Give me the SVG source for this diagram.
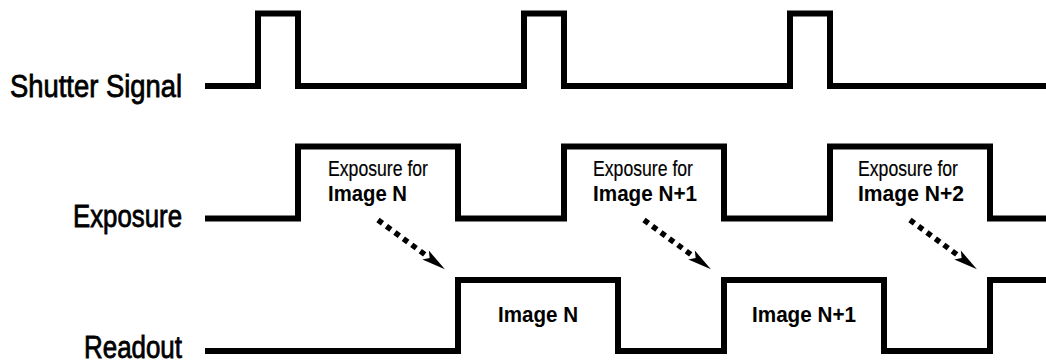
<svg xmlns="http://www.w3.org/2000/svg" width="1046" height="362" viewBox="0 0 1046 362">
<style>
.sig{fill:none;stroke:#000;stroke-width:6;stroke-linejoin:miter;stroke-linecap:butt}
.lbl{font-family:"Liberation Sans Narrow","Liberation Sans",Arial,sans-serif;font-size:31px;fill:#000;stroke:#000;stroke-width:0.8}
.reg{font-family:"Liberation Sans Narrow","Liberation Sans",Arial,sans-serif;font-size:22px;fill:#000;stroke:#000;stroke-width:0.2}
.bld{font-family:"Liberation Sans Narrow","Liberation Sans",Arial,sans-serif;font-size:22.5px;font-weight:bold;fill:#000}
.dot{fill:none;stroke:#000;stroke-width:5.5;stroke-dasharray:5.5 5}
</style>
<defs>
<marker id="ah" markerUnits="userSpaceOnUse" markerWidth="28" markerHeight="16" refX="3" refY="7" orient="auto" overflow="visible">
<path d="M0,1.5 L24,7 L0,12.5 L5,7 Z" fill="#000"/>
</marker>
</defs>
<rect width="1046" height="362" fill="#fff"/>
<g id="shutter">
<text class="lbl" x="182" y="97" text-anchor="end" textLength="172" lengthAdjust="spacingAndGlyphs">Shutter Signal</text>
<path class="sig" d="M205,86 H258 V13.5 H298 V86 H524 V13.5 H564 V86 H790 V13.5 H830 V86 H1046"/>
</g>
<g id="exposure">
<text class="lbl" x="182" y="227" text-anchor="end" textLength="109" lengthAdjust="spacingAndGlyphs">Exposure</text>
<path class="sig" d="M205,218.5 H298 V146.5 H458 V218.5 H564 V146.5 H724 V218.5 H830 V146.5 H990 V218.5 H1046"/>
<text class="reg" x="328" y="176" textLength="100" lengthAdjust="spacingAndGlyphs">Exposure for</text>
<text class="bld" x="328" y="201" textLength="79" lengthAdjust="spacingAndGlyphs">Image N</text>
<text class="reg" x="593" y="176" textLength="100" lengthAdjust="spacingAndGlyphs">Exposure for</text>
<text class="bld" x="593" y="201" textLength="104" lengthAdjust="spacingAndGlyphs">Image N+1</text>
<text class="reg" x="858" y="176" textLength="100" lengthAdjust="spacingAndGlyphs">Exposure for</text>
<text class="bld" x="858" y="201" textLength="106" lengthAdjust="spacingAndGlyphs">Image N+2</text>
</g>
<g id="readout">
<text class="lbl" x="182" y="358" text-anchor="end" textLength="98" lengthAdjust="spacingAndGlyphs">Readout</text>
<path class="sig" d="M205,351 H458 V280 H618 V351 H724 V280 H884 V351 H990 V280 H1046"/>
<text class="bld" x="538" y="322" text-anchor="middle" textLength="80" lengthAdjust="spacingAndGlyphs">Image N</text>
<text class="bld" x="804" y="322" text-anchor="middle" textLength="104" lengthAdjust="spacingAndGlyphs">Image N+1</text>
</g>
<g id="connectors">
<path class="dot" d="M378,220 L428,256.8" marker-end="url(#ah)"/>
<path class="dot" d="M644,220 L694,256.8" marker-end="url(#ah)"/>
<path class="dot" d="M910,220 L960,256.8" marker-end="url(#ah)"/>
</g>
</svg>
